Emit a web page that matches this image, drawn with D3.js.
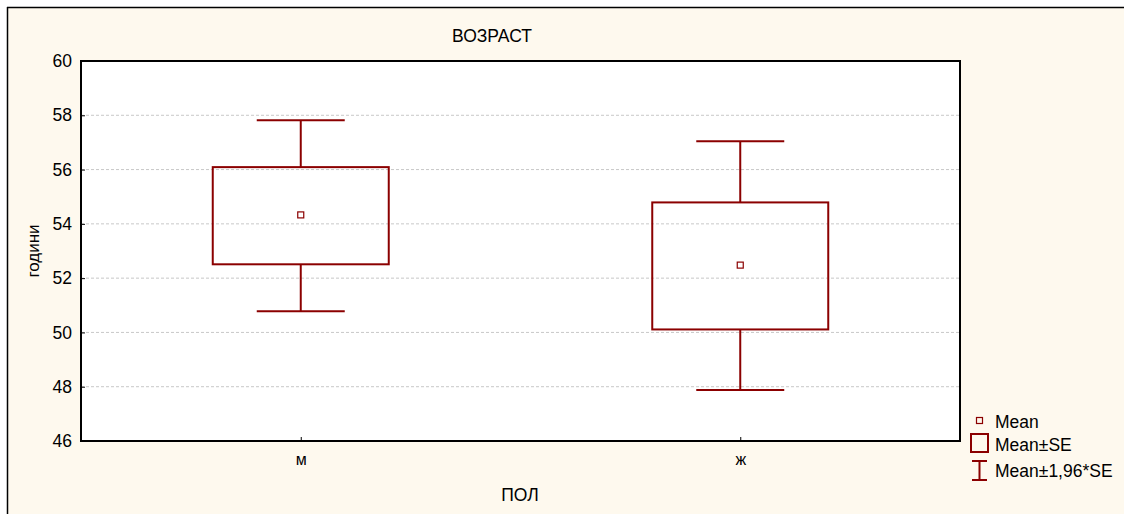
<!DOCTYPE html>
<html><head><meta charset="utf-8">
<script src="https://cdn.jsdelivr.net/npm/d3@7"></script>
<style>body{margin:0;background:#fff;}svg{display:block;font-family:"Liberation Sans",Arial,sans-serif;}</style>
</head><body><svg id="c" width="1124" height="514"></svg>
<script>
const categories = ["м", "ж"];
const means = [54.33, 52.48];
const seLow = [52.51, 50.11];
const seHigh = [56.09, 54.79];
const ciLow = [50.78, 47.88];
const ciHigh = [57.82, 57.04];
const yTicks = [46, 48, 50, 52, 54, 56, 58, 60];
const legendLabels = ["Mean", "Mean±SE", "Mean±1,96*SE"];

const svg = d3.select("#c");
const col = "#8b0000";
svg.append("rect").attr("x",0).attr("y",0).attr("width",1124).attr("height",514).attr("fill","#fff");
svg.append("rect").attr("x",7).attr("y",7).attr("width",1117).attr("height",507).attr("fill","#fef9ee");
svg.append("line").attr("x1",7).attr("x2",1124).attr("y1",7.5).attr("y2",7.5).attr("stroke","#000").attr("stroke-width",1.5);
svg.append("line").attr("x1",7.5).attr("x2",7.5).attr("y1",7).attr("y2",514).attr("stroke","#000").attr("stroke-width",1.5);

const L=81,T=61,R=960,B=441;
const x = d3.scalePoint().domain(categories).range([L,R]).padding(0.5);
const y = d3.scaleLinear().domain([46,60]).range([B,T]);

svg.append("rect").attr("x",L).attr("y",T).attr("width",R-L).attr("height",B-T).attr("fill","#fff");

// grid
svg.append("g").selectAll("line").data(yTicks.filter(d=>d>46&&d<60)).join("line")
  .attr("x1",L).attr("x2",R).attr("y1",d=>y(d)).attr("y2",d=>y(d))
  .attr("stroke","#c8c8c8").attr("stroke-dasharray","3,2").attr("stroke-width",1);

// axes
const ya = svg.append("g").attr("transform",`translate(${L},0)`)
  .call(d3.axisLeft(y).tickValues(yTicks).tickSizeInner(-4).tickSizeOuter(0).tickPadding(9));
ya.select(".domain").remove();
ya.selectAll("text").attr("font-size",17.5).attr("fill","#000").attr("font-family","Liberation Sans, Arial");
ya.selectAll("line").attr("stroke","#000");

const xa = svg.append("g").attr("transform",`translate(0,${B})`)
  .call(d3.axisBottom(x).tickSizeInner(-4).tickSizeOuter(0).tickPadding(13));
xa.select(".domain").remove();
xa.selectAll("text").attr("font-size",16).attr("fill","#000").attr("font-family","Liberation Sans, Arial");
xa.selectAll("line").attr("stroke","#000");

svg.append("rect").attr("x",L).attr("y",T).attr("width",R-L).attr("height",B-T)
  .attr("fill","none").attr("stroke","#000").attr("stroke-width",2);

const boxW = 176, capW = 88;
const g = svg.append("g");
categories.forEach((c,i)=>{
  const cx = x(c);
  g.append("line").attr("x1",cx).attr("x2",cx).attr("y1",y(ciHigh[i])).attr("y2",y(seHigh[i])).attr("stroke",col).attr("stroke-width",2);
  g.append("line").attr("x1",cx).attr("x2",cx).attr("y1",y(seLow[i])).attr("y2",y(ciLow[i])).attr("stroke",col).attr("stroke-width",2);
  g.append("line").attr("x1",cx-capW/2).attr("x2",cx+capW/2).attr("y1",y(ciHigh[i])).attr("y2",y(ciHigh[i])).attr("stroke",col).attr("stroke-width",2);
  g.append("line").attr("x1",cx-capW/2).attr("x2",cx+capW/2).attr("y1",y(ciLow[i])).attr("y2",y(ciLow[i])).attr("stroke",col).attr("stroke-width",2);
  g.append("rect").attr("x",cx-boxW/2).attr("y",y(seHigh[i])).attr("width",boxW).attr("height",y(seLow[i])-y(seHigh[i]))
    .attr("fill","none").attr("stroke",col).attr("stroke-width",2);
  g.append("rect").attr("x",cx-3).attr("y",y(means[i])-3).attr("width",6).attr("height",6)
    .attr("fill","none").attr("stroke",col).attr("stroke-width",1.2);
});

svg.append("text").attr("x",492).attr("y",42).attr("text-anchor","middle").attr("font-size",17.5).text("ВОЗРАСТ");
svg.append("text").attr("x",520).attr("y",501).attr("text-anchor","middle").attr("font-size",17.5).text("ПОЛ");
svg.append("text").attr("transform","translate(39,251) rotate(-90)").attr("text-anchor","middle").attr("font-size",17).text("години");

// legend
const lg = svg.append("g");
lg.append("rect").attr("x",976.5).attr("y",417.5).attr("width",6).attr("height",6).attr("fill","none").attr("stroke",col).attr("stroke-width",1.2);
lg.append("rect").attr("x",971).attr("y",434).attr("width",17).attr("height",18).attr("fill","none").attr("stroke",col).attr("stroke-width",2);
lg.append("line").attr("x1",979.5).attr("x2",979.5).attr("y1",461).attr("y2",480).attr("stroke",col).attr("stroke-width",2);
lg.append("line").attr("x1",972).attr("x2",987).attr("y1",461).attr("y2",461).attr("stroke",col).attr("stroke-width",2);
lg.append("line").attr("x1",972).attr("x2",987).attr("y1",480).attr("y2",480).attr("stroke",col).attr("stroke-width",2);
const ly=[428,451,477];
legendLabels.forEach((t,i)=>{
  lg.append("text").attr("x",995).attr("y",ly[i]).attr("font-size",17.5).text(t);
});
</script></body></html>
